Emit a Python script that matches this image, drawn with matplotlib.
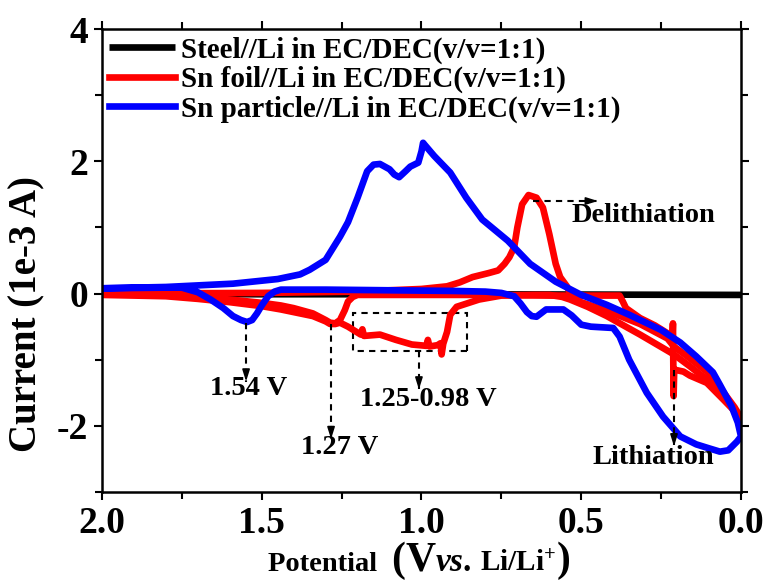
import matplotlib
matplotlib.use("Agg")
import matplotlib.pyplot as plt
from matplotlib.offsetbox import TextArea, HPacker, AnchoredOffsetbox
from matplotlib.patches import Rectangle
from matplotlib.ticker import MultipleLocator

# ---- data: cyclic voltammetry, potential (V vs. Li/Li+) and current (1e-3 A) ----
steel_v = [2.0, 1.5, 1.0, 0.5, 0.0]
steel_i = [0.0, -0.01, -0.01, -0.015, -0.02]

# Sn foil, first cathodic sweep
foil_c1_v = [2.0, 1.8, 1.7, 1.6, 1.5, 1.44, 1.4, 1.34, 1.30, 1.286, 1.27, 1.255, 1.24, 1.23,
             1.215, 1.20, 1.0, 0.8, 0.6, 0.45, 0.38, 0.37, 0.36, 0.316, 0.27, 0.23, 0.215,
             0.213, 0.211, 0.209, 0.18, 0.16, 0.107, 0.066, 0.025, 0.0]
foil_c1_i = [0.0, -0.02, -0.05, -0.09, -0.14, -0.18, -0.22, -0.30, -0.40, -0.44, -0.45, -0.40,
             -0.25, -0.12, -0.05, -0.02, -0.02, -0.02, -0.03, -0.03, -0.03, -0.12, -0.22, -0.37,
             -0.48, -0.60, -0.72, -0.45, -1.55, -1.15, -1.18, -1.24, -1.35, -1.55, -1.75, -1.90]

# Sn foil, second cathodic sweep
foil_c2_v = [2.0, 1.8, 1.7, 1.6, 1.5, 1.44, 1.4, 1.34, 1.30, 1.286, 1.27, 1.255, 1.23, 1.21,
             1.19, 1.185, 1.18, 1.13, 1.08, 1.03, 0.985, 0.98, 0.975, 0.95, 0.94, 0.937, 0.932,
             0.92, 0.91, 0.89, 0.82, 0.75, 0.65, 0.60, 0.56, 0.535, 0.48, 0.42, 0.316, 0.21,
             0.16, 0.107, 0.044, 0.0]
foil_c2_i = [-0.02, -0.04, -0.08, -0.13, -0.19, -0.24, -0.28, -0.34, -0.42, -0.46, -0.46, -0.44,
             -0.50, -0.56, -0.62, -0.54, -0.64, -0.62, -0.70, -0.77, -0.79, -0.70, -0.80, -0.78,
             -0.75, -0.92, -0.76, -0.58, -0.32, -0.20, -0.09, -0.03, -0.02, -0.02, -0.05, -0.09,
             -0.20, -0.34, -0.62, -0.92, -1.10, -1.30, -1.65, -1.88]

# Sn foil, anodic sweep
foil_a_v = [0.0, 0.02, 0.066, 0.107, 0.16, 0.21, 0.23, 0.316, 0.42, 0.525, 0.545, 0.566, 0.58,
            0.60, 0.62, 0.64, 0.665, 0.685, 0.70, 0.71, 0.725, 0.74, 0.76, 0.79, 0.84, 0.88,
            0.92, 1.0, 1.1, 1.2, 1.5, 2.0]
foil_a_i = [-1.88, -1.72, -1.42, -1.18, -0.98, -0.80, -0.68, -0.46, -0.26, -0.09, 0.11, 0.25,
            0.45, 0.90, 1.30, 1.45, 1.49, 1.35, 1.00, 0.70, 0.55, 0.45, 0.35, 0.31, 0.25, 0.17,
            0.11, 0.07, 0.05, 0.03, 0.01, 0.0]

# Sn particle, full cycle (cathodic then anodic)
part_v = [2.0, 1.80, 1.75, 1.70, 1.66, 1.62, 1.59, 1.565, 1.546, 1.53, 1.515, 1.50, 1.48, 1.46,
          1.44, 1.3, 1.1, 0.9, 0.8, 0.75, 0.71, 0.69, 0.67, 0.655, 0.64, 0.61, 0.556, 0.53,
          0.50, 0.47, 0.40, 0.38, 0.35, 0.295, 0.244, 0.19, 0.14, 0.10, 0.066, 0.04, 0.013,
          0.0, 0.01, 0.03, 0.066, 0.088, 0.14, 0.19, 0.25, 0.35, 0.42, 0.50, 0.58, 0.66, 0.73,
          0.81, 0.86, 0.91, 0.96, 0.99, 0.995, 1.0, 1.01, 1.035, 1.05, 1.07, 1.085, 1.10, 1.13,
          1.15, 1.17, 1.20, 1.23, 1.255, 1.30, 1.35, 1.38, 1.45, 1.59, 1.80, 2.0]
part_i = [0.08, 0.09, 0.09, 0.02, -0.09, -0.22, -0.34, -0.40, -0.43, -0.40, -0.30, -0.18,
          -0.04, 0.03, 0.06, 0.06, 0.05, 0.04, 0.03, 0.01, -0.04, -0.15, -0.28, -0.34, -0.35,
          -0.24, -0.24, -0.33, -0.47, -0.50, -0.52, -0.65, -1.00, -1.50, -1.86, -2.16, -2.28,
          -2.34, -2.39, -2.37, -2.24, -2.16, -1.95, -1.70, -1.38, -1.19, -0.95, -0.74, -0.55,
          -0.32, -0.17, -0.02, 0.18, 0.45, 0.80, 1.12, 1.45, 1.83, 2.08, 2.25, 2.28, 2.15, 1.98,
          1.92, 1.85, 1.76, 1.80, 1.88, 1.96, 1.95, 1.85, 1.45, 1.08, 0.86, 0.51, 0.36, 0.29,
          0.22, 0.15, 0.10, 0.08]

labels = ["Steel//Li in EC/DEC(v/v=1:1)",
          "Sn foil//Li in EC/DEC(v/v=1:1)",
          "Sn particle//Li in EC/DEC(v/v=1:1)"]
x_ticks = [2.0, 1.5, 1.0, 0.5, 0.0]
y_ticks = [-2, 0, 2, 4]

SERIF = "Liberation Serif"
plt.rcParams["font.family"] = SERIF
plt.rcParams["font.weight"] = "bold"
plt.rcParams["axes.unicode_minus"] = False
plt.rcParams["mathtext.fontset"] = "custom"
plt.rcParams["mathtext.rm"] = "Liberation Serif:bold"
plt.rcParams["mathtext.bf"] = "Liberation Serif:bold"
plt.rcParams["mathtext.it"] = "Liberation Serif:italic:bold"

fig = plt.figure(figsize=(7.69, 5.81), dpi=100)
ax = fig.add_axes([0.1326, 0.1532, 0.8310, 0.7968])

LW = 4.8
ax.plot(steel_v, steel_i, color="black", lw=LW, label=labels[0], solid_capstyle="butt")
ax.plot(foil_c1_v, foil_c1_i, color="#ff0000", lw=LW, label=labels[1])
ax.plot(foil_c2_v, foil_c2_i, color="#ff0000", lw=LW)
ax.plot(foil_a_v, foil_a_i, color="#ff0000", lw=LW)
ax.plot(part_v, part_i, color="#0000ff", lw=LW, label=labels[2])

ax.set_xlim(2.0, 0.0)
ax.set_ylim(-3, 4)
ax.set_xticks(x_ticks)
ax.set_xticklabels([f"{t:.1f}" for t in x_ticks])
ax.set_yticks(y_ticks)
ax.set_yticklabels([str(t) for t in y_ticks])
ax.xaxis.set_minor_locator(MultipleLocator(0.25))
ax.yaxis.set_minor_locator(MultipleLocator(1))
ax.tick_params(which="both", direction="out", top=True, right=True, width=1.5)
ax.tick_params(which="major", length=6, labelsize=27, pad=4)
ax.tick_params(which="minor", length=5)
for lab in ax.get_xticklabels() + ax.get_yticklabels():
    lab.set_fontweight("bold")
for s in ax.spines.values():
    s.set_linewidth(1.8)

ax.set_ylabel("Current (1e-3 A)", fontsize=28, fontweight="bold")
ax.yaxis.set_label_coords(-0.089, 0.385)

# x-axis title assembled from pieces of different sizes
parts = [("Potential  ", 20.5, "normal"), ("(", 30, "normal"), ("V", 30, "normal"),
         ("vs", 24, "italic"), (". ", 24, "normal"), ("Li/Li$^{+}$", 21, "normal"),
         (")", 30, "normal")]
areas = [TextArea(t, textprops=dict(fontsize=fs, fontweight="bold", fontstyle=st,
                                    family=SERIF)) for t, fs, st in parts]
box = HPacker(children=areas, align="baseline", pad=0, sep=0)
anch = AnchoredOffsetbox(loc="lower center", child=box, pad=0, frameon=False,
                         bbox_to_anchor=(0.545, -0.01), bbox_transform=fig.transFigure)
fig.add_artist(anch)

leg = ax.legend(loc="upper left", frameon=False, handlelength=2.25,
                handletextpad=0.2, labelspacing=0.08, borderaxespad=0.0,
                borderpad=0.25, prop=dict(family=SERIF, weight="bold", size=21))
for h in leg.legend_handles:
    h.set_linewidth(4.8)

# annotations
ANN = 20.5
def dashed_arrow(x0, y0, x1, y1):
    ax.plot([x0, x1], [y0, y1], color="black", lw=1.5, ls=(0, (3, 2.5)))
    dx, dy = (x1 - x0) * 0.18, (y1 - y0) * 0.18
    ax.annotate("", xy=(x1, y1), xytext=(x1 - dx * 0.6, y1 - dy * 0.6),
                arrowprops=dict(arrowstyle="-|>,head_length=0.7,head_width=0.22",
                                color="black", lw=1.2, shrinkA=0, shrinkB=0))

dashed_arrow(1.549, -0.45, 1.549, -1.33)
ax.text(1.54, -1.43, "1.54 V", fontsize=ANN, fontweight="bold", ha="center", va="center")

dashed_arrow(1.283, -0.46, 1.283, -2.2)
ax.text(1.255, -2.32, "1.27 V", fontsize=ANN, fontweight="bold", ha="center", va="center")

ax.add_patch(Rectangle((0.858, -0.875), 1.214 - 0.858, 0.585, fill=False, ec="black",
                       lw=1.5, ls=(0, (3, 2.5))))
dashed_arrow(1.008, -0.875, 1.008, -1.45)
ax.text(0.977, -1.60, "1.25-0.98 V", fontsize=ANN, fontweight="bold", ha="center",
        va="center")

dashed_arrow(0.651, 1.40, 0.448, 1.40)
ax.text(0.307, 1.18, "Delithiation", fontsize=ANN, fontweight="bold", ha="center",
        va="center")

dashed_arrow(0.2097, -1.15, 0.2097, -2.31)
ax.text(0.275, -2.48, "Lithiation", fontsize=ANN, fontweight="bold", ha="center",
        va="center")

fig.savefig("out.png", dpi=100)
